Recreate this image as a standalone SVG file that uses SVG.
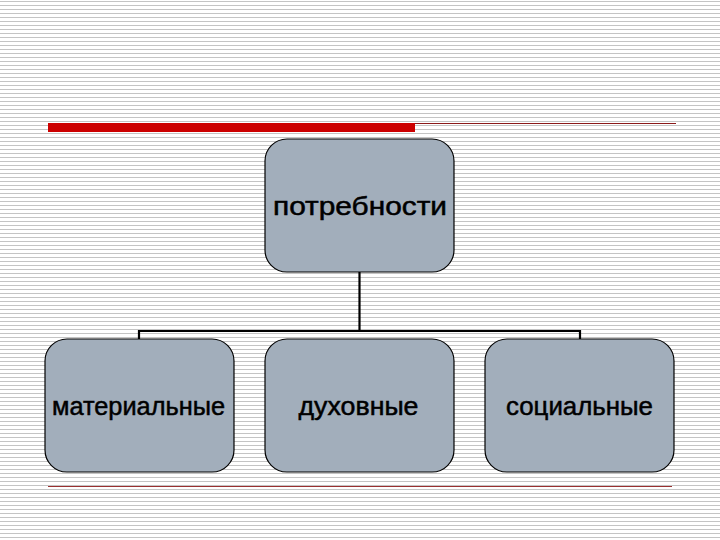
<svg xmlns="http://www.w3.org/2000/svg" width="720" height="540" viewBox="0 0 720 540">
<defs>
<pattern id="stripes" x="0" y="0" width="8" height="4" patternUnits="userSpaceOnUse">
<rect x="0" y="0" width="8" height="4" fill="#ffffff"/>
<rect x="0" y="1" width="8" height="1" fill="#c4c4c4"/>
</pattern>
</defs>
<style>
.node{fill:#a2aebb;stroke:#000000;stroke-width:1.2}
.lbl{font-family:"Liberation Sans",Arial,sans-serif;font-size:25.5px;fill:#000000;stroke:#000000;stroke-width:0.5;text-anchor:middle}
.conn{fill:none;stroke:#000000;stroke-width:2.2}
</style>
<rect x="0" y="0" width="720" height="540" fill="url(#stripes)"/>
<g id="decor">
<rect x="48" y="123" width="367" height="9" fill="#cc0000"/>
<line x1="415" y1="123.5" x2="676" y2="123.5" stroke="#8b1a1a" stroke-width="1"/>
<line x1="48" y1="486.5" x2="672" y2="486.5" stroke="#9a3030" stroke-width="1.2"/>
</g>
<g id="connectors">
<line class="conn" x1="359.5" y1="272" x2="359.5" y2="332" stroke-width="3"/>
<polyline class="conn" points="139,339 139,331 580,331 580,339"/>
</g>
<g id="node-potrebnosti">
<rect class="node" x="265" y="139" width="189" height="133" rx="22"/>
<text class="lbl" x="360" y="215" textLength="174" lengthAdjust="spacingAndGlyphs">потребности</text>
</g>
<g id="node-materialnye">
<rect class="node" x="45" y="339" width="189" height="133" rx="22"/>
<text class="lbl" x="138.5" y="415" textLength="173" lengthAdjust="spacingAndGlyphs">материальные</text>
</g>
<g id="node-duhovnye">
<rect class="node" x="265" y="339" width="189" height="133" rx="22"/>
<text class="lbl" x="358.5" y="415" textLength="120" lengthAdjust="spacingAndGlyphs">духовные</text>
</g>
<g id="node-socialnye">
<rect class="node" x="485" y="339" width="189" height="133" rx="22"/>
<text class="lbl" x="579.5" y="415" textLength="147" lengthAdjust="spacingAndGlyphs">социальные</text>
</g>
</svg>
